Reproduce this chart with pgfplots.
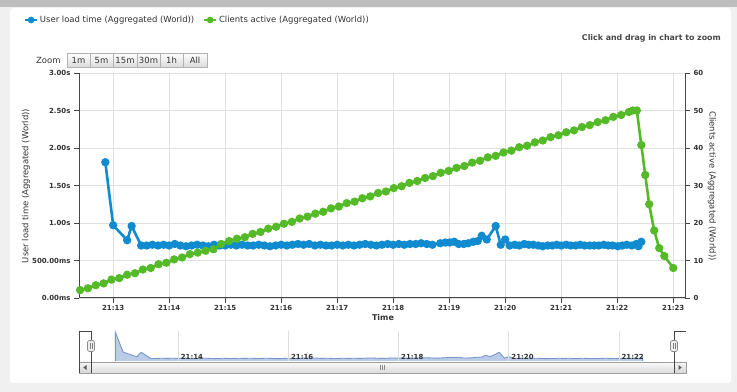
\documentclass[border=0pt]{standalone}
\usepackage{fontspec}
\setmainfont{DejaVu Sans}
\usepackage{pgfplots}
\pgfplotsset{compat=1.18}
\usepackage{pgfplotstable}

\definecolor{cblue}{RGB}{16,139,208}
\definecolor{cgreen}{RGB}{84,186,40}
\definecolor{gridc}{RGB}{224,224,224}
\definecolor{axc}{RGB}{70,70,70}
\definecolor{txt}{RGB}{51,51,51}
\definecolor{navfill}{RGB}{174,196,228}
\definecolor{navline}{RGB}{120,152,202}
\definecolor{bgc}{RGB}{240,240,240}
\definecolor{topbar}{RGB}{190,190,190}
\definecolor{btnb}{RGB}{178,178,178}
\definecolor{btng}{RGB}{218,218,218}
\definecolor{sbb}{RGB}{160,160,160}

\newcommand\tickfont{\bfseries\fontsize{7}{8}\selectfont}
\newcommand\lblfont{\fontsize{8.5}{10}\selectfont}

\pgfplotstableread{
t v
12.86 1.81
13.00 0.97
13.25 0.77
13.33 0.96
13.50 0.70
13.60 0.70
13.70 0.71
13.80 0.70
13.90 0.71
14.00 0.70
14.10 0.72
14.20 0.70
14.30 0.69
14.40 0.70
14.50 0.71
14.60 0.70
14.70 0.69
14.80 0.71
14.90 0.70
15.00 0.70
15.10 0.71
15.20 0.70
15.30 0.71
15.40 0.70
15.50 0.70
15.60 0.71
15.70 0.70
15.80 0.69
15.90 0.70
16.00 0.71
16.10 0.70
16.20 0.71
16.30 0.72
16.40 0.71
16.50 0.72
16.60 0.70
16.70 0.71
16.80 0.70
16.90 0.70
17.00 0.71
17.10 0.70
17.20 0.71
17.30 0.70
17.40 0.71
17.50 0.72
17.60 0.71
17.70 0.70
17.80 0.71
17.90 0.72
18.00 0.71
18.10 0.72
18.20 0.71
18.30 0.72
18.40 0.72
18.50 0.73
18.60 0.72
18.70 0.71
18.84 0.73
18.93 0.74
19.01 0.74
19.09 0.75
19.17 0.72
19.26 0.72
19.34 0.73
19.43 0.75
19.51 0.76
19.58 0.83
19.67 0.78
19.83 0.96
19.92 0.71
20.00 0.78
20.08 0.70
20.17 0.71
20.25 0.70
20.34 0.72
20.42 0.71
20.50 0.71
20.59 0.70
20.67 0.69
20.76 0.70
20.84 0.70
20.92 0.71
21.00 0.70
21.09 0.71
21.17 0.70
21.26 0.70
21.34 0.71
21.42 0.70
21.51 0.70
21.59 0.70
21.67 0.70
21.76 0.71
21.84 0.70
21.92 0.70
22.01 0.69
22.09 0.70
22.17 0.71
22.26 0.70
22.34 0.72
22.38 0.69
22.43 0.75
}\bluedata

\pgfplotstableread{
t v
12.41 2.1
12.55 2.6
12.69 3.4
12.83 3.9
12.97 4.9
13.11 5.3
13.25 6.2
13.39 6.6
13.53 7.6
13.67 8.0
13.81 9.0
13.95 9.4
14.09 10.3
14.23 10.8
14.37 11.7
14.51 12.1
14.65 12.6
14.79 13.0
14.93 14.4
15.07 15.2
15.21 15.8
15.35 16.2
15.49 17.1
15.63 17.6
15.77 18.5
15.91 19.0
16.05 19.8
16.19 20.3
16.33 21.2
16.47 21.7
16.61 22.5
16.75 23.0
16.89 23.9
17.03 24.4
17.17 25.3
17.31 25.7
17.45 26.6
17.59 27.1
17.73 28.0
17.87 28.4
18.01 29.3
18.15 29.8
18.29 30.7
18.43 31.2
18.57 32.0
18.71 32.5
18.85 33.4
18.99 33.9
19.13 34.7
19.27 35.2
19.41 36.1
19.55 36.6
19.69 37.5
19.83 37.9
19.97 38.8
20.11 39.3
20.25 40.2
20.39 40.6
20.53 41.5
20.67 42.0
20.81 42.9
20.95 43.4
21.09 44.2
21.23 44.7
21.37 45.6
21.51 46.1
21.65 46.9
21.79 47.4
21.93 48.3
22.07 48.8
22.21 49.6
22.28 50.0
22.35 50.0
22.43 40.8
22.50 32.8
22.57 25.0
22.66 18.0
22.75 13.3
22.84 11.2
23.00 8.0
}\greendata

\begin{document}
\begin{tikzpicture}
\useasboundingbox (0,0) rectangle (737bp,392bp);
\begin{scope}[x=1bp,y=-1bp,shift={(0bp,392bp)}]
  \fill[bgc] (0,0) rectangle (737,392);
  \fill[topbar] (0,0) rectangle (737,7);
  \fill[white,rounded corners=3bp] (10,8) rectangle (731,383);
  % zoom buttons
  \node[anchor=west,inner sep=0pt,font=\lblfont,text=txt] at (36,60.5) {Zoom};
  \foreach \a/\b/\l in {67/90/1m,90/113/5m,113/137/15m,137/160/30m,160/183/1h,183/207/All}{
    \draw[draw=btnb,line width=0.6bp,top color=white,bottom color=btng] (\a,53) rectangle (\b,67.5);
    \node[inner sep=0pt,font=\lblfont,text=txt] at ({(\a+\b)/2},60.3) {\l};
  }
  \node[anchor=east,inner sep=0pt,font=\bfseries\fontsize{7.9}{9}\selectfont,text=txt!90] at (721,38) {Click and drag in chart to zoom};
\end{scope}

% main axis (left, blue)
\begin{axis}[
  at={(79bp,94bp)}, anchor=south west, scale only axis,
  width=606bp, height=225bp,
  xmin=12.39, xmax=23.21, ymin=0, ymax=3,
  axis x line*=bottom, axis y line*=left,
  axis line style={-,draw=axc,line width=1bp},
  xtick={13,14,15,16,17,18,19,20,21,22,23},
  xticklabels={21:13,21:14,21:15,21:16,21:17,21:18,21:19,21:20,21:21,21:22,21:23},
  ytick={0,0.5,1,1.5,2,2.5,3},
  yticklabels={0.00ms,500.00ms,1.00s,1.50s,2.00s,2.50s,3.00s},
  tick align=outside, major tick length=5bp,
  tick style={draw=axc,line width=0.8bp},
  grid=major, major grid style={draw=gridc,line width=0.8bp},
  tick label style={font=\tickfont,text=txt},
  xticklabel style={yshift=1.5bp},
  clip=false,
  legend columns=2,
  legend style={at={(axis description cs:-0.0908,1.2356)},anchor=west,
    draw=none,fill=none,inner sep=0pt,font=\lblfont,text=txt,
    /tikz/every even column/.append style={column sep=7bp}},
  legend cell align=left,
  legend image code/.code={\draw[#1,line width=1.8bp,mark size=2.4pt,mark repeat=2,mark phase=2] plot coordinates {(0bp,0bp) (6bp,0bp) (12bp,0bp)};},
]
\addplot[cblue,line width=2.6bp,mark=*,mark size=2.8pt,mark options={draw=none,fill=cblue}] table[x=t,y=v]{\bluedata};
\addlegendentry{User load time (Aggregated (World))}
\addlegendimage{cgreen,line width=2.6bp,mark=*,mark size=2.8pt,mark options={draw=none,fill=cgreen}}
\addlegendentry{Clients active (Aggregated (World))}
\end{axis}

% right axis (green)
\begin{axis}[
  at={(79bp,94bp)}, anchor=south west, scale only axis,
  width=606bp, height=225bp,
  xmin=12.39, xmax=23.21, ymin=0, ymax=60,
  axis x line=none, xtick=\empty,
  axis y line*=right,
  axis line style={-,draw=axc,line width=1bp},
  ytick={0,10,20,30,40,50,60},
  yticklabels={0,10,20,30,40,50,60},
  tick align=outside, major tick length=5bp,
  tick style={draw=axc,line width=0.8bp},
  tick label style={font=\tickfont,text=txt},
  clip=false,
]
\addplot[cgreen,line width=2.6bp,mark=*,mark size=2.8pt,mark options={draw=none,fill=cgreen}] table[x=t,y=v]{\greendata};
\end{axis}

% navigator
\begin{axis}[
  at={(79bp,30bp)}, anchor=south west, scale only axis,
  width=595bp, height=31bp,
  xmin=12.2, xmax=23.0, ymin=0.55, ymax=1.86,
  axis on top,
  axis line style={draw=none},
  ytick=\empty,
  xtick={14,16,18,20,22},
  xticklabels={21:14,21:16,21:18,21:20,21:22},
  major tick length=0pt, xtick style={draw=none},
  xmajorgrids=true, major grid style={draw=gridc,line width=0.8bp},
  xticklabel style={anchor=south west,font=\tickfont,text=txt,inner sep=1.5bp,xshift=1bp,yshift=1bp},
]
\addplot[draw=navline,line width=0.9bp,fill=navfill,fill opacity=0.85] table[x=t,y=v]{\bluedata} \closedcycle;
\end{axis}

\begin{scope}[x=1bp,y=-1bp,shift={(0bp,392bp)}]
  % scrollbar
  \draw[draw=sbb,line width=0.7bp,top color=white!96!black,bottom color=white!82!black] (79,362) rectangle (686,373);
  \draw[draw=sbb,line width=0.7bp,top color=white!98!black,bottom color=white!86!black] (91,362) rectangle (674,373);
  \draw[draw=sbb,line width=0.7bp,top color=white!96!black,bottom color=white!84!black] (79,362) rectangle (91,373);
  \draw[draw=sbb,line width=0.7bp,top color=white!96!black,bottom color=white!84!black] (674,362) rectangle (686,373);
  \fill[black!65] (86.5,365) -- (83.3,367.5) -- (86.5,370) -- cycle;
  \fill[black!65] (678.5,365) -- (681.7,367.5) -- (678.5,370) -- cycle;
  \draw[black!45,line width=0.6bp] (380.5,365) -- (380.5,370) (382.5,365) -- (382.5,370) (384.5,365) -- (384.5,370);
  % outline
  \draw[axc,line width=0.9bp] (79,373) -- (79,331) -- (91,331) -- (91,373);
  \draw[axc,line width=0.9bp] (674,373) -- (674,331) -- (686,331);
  % handles
  \draw[draw=black!45,line width=0.6bp,fill=white!93!black,rounded corners=1.5bp] (87.5,340.5) rectangle (94.5,351.5);
  \draw[black!50,line width=0.5bp] (90,343) -- (90,349) (92,343) -- (92,349);
  \draw[draw=black!45,line width=0.6bp,fill=white!93!black,rounded corners=1.5bp] (670.5,340.5) rectangle (677.5,351.5);
  \draw[black!50,line width=0.5bp] (673,343) -- (673,349) (675,343) -- (675,349);
  % axis titles
  \node[rotate=90,inner sep=0pt,font=\lblfont,text=txt] at (26,186) {User load time (Aggregated (World))};
  \node[rotate=-90,inner sep=0pt,font=\lblfont,text=txt] at (712,186) {Clients active (Aggregated (World))};
  \node[inner sep=0pt,font=\bfseries\fontsize{8}{9}\selectfont,text=txt] at (383,318) {Time};
\end{scope}
\end{tikzpicture}
\end{document}
